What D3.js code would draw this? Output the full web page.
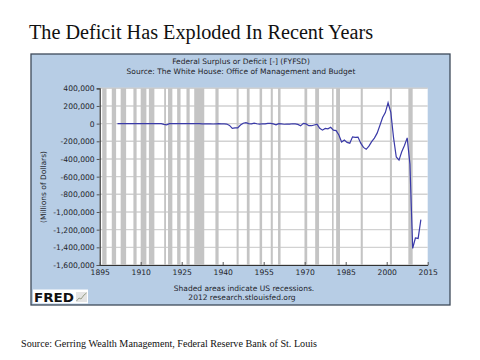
<!DOCTYPE html>
<html><head><meta charset="utf-8">
<script src="https://cdn.jsdelivr.net/npm/d3@7"></script>
<style>html,body{margin:0;padding:0;background:#fff;}svg{display:block;}</style>
</head><body>
<svg id="c" width="480" height="360"></svg>
<script>
// ---- data ----
const years = d3.range(1901, 2013);
const deficit = [
  63, 77, 45, -43, -23, 25, 87, -57, -89, -18,
  11, 3, 0, 0, -63, 48, -853, -9032, -13363, 291,
  509, 736, 713, 963, 717, 865, 1155, 939, 734, 738,
  -462, -2735, -2602, -3586, -2803, -4304, -2193, -89, -2846, -2920,
  -4941, -20503, -54554, -47557, -47553, -15936, 4018, 11796, 580, -3119,
  6102, -1519, -6493, -1154, -2993, 3947, 3412, -2769, -12849, 301,
  -3335, -7146, -4756, -5915, -1411, -3698, -8643, -25161, 3242, -2842,
  -23033, -23373, -14908, -6135, -53242, -73732, -53659, -59185, -40726, -73830,
  -78968, -127977, -207802, -185367, -212308, -221227, -149730, -155178, -152639, -221036,
  -269238, -290321, -255051, -203186, -163952, -107431, -21884, 69270, 125610, 236241,
  128236, -157758, -377585, -412727, -318346, -248181, -160701, -458553, -1412688, -1294373,
  -1299595, -1087000
];
const recessionStart = ["1895-12","1899-06","1902-09","1907-05","1910-01","1913-01","1918-08","1920-01","1923-05","1926-10","1929-08","1937-05","1945-02","1948-11","1953-07","1957-08","1960-04","1969-12","1973-11","1980-01","1981-07","1990-07","2001-03","2007-12"];
const recessionEnd   = ["1897-06","1900-12","1904-08","1908-06","1912-01","1914-12","1919-03","1921-07","1924-07","1927-11","1933-03","1938-06","1945-10","1949-10","1954-05","1958-04","1961-02","1970-11","1975-03","1980-07","1982-11","1991-03","2001-11","2009-06"];
const xTicks = [1895, 1910, 1925, 1940, 1955, 1970, 1985, 2000, 2015];
const yTicks = [400000, 200000, 0, -200000, -400000, -600000, -800000, -1000000, -1200000, -1400000, -1600000];

const title = "The Deficit Has Exploded In Recent Years";
const seriesTitle = "Federal Surplus or Deficit [-] (FYFSD)";
const seriesSource = "Source: The White House: Office of Management and Budget";
const yLabel = "(Millions of Dollars)";
const note1 = "Shaded areas indicate US recessions.";
const note2 = "2012 research.stlouisfed.org";
const footer = "Source: Gerring Wealth Management, Federal Reserve Bank of St. Louis";

// ---- layout ----
const svg = d3.select("#c");
const frame = {x: 31, y: 54, w: 419, h: 251};
const plot = {l: 99.7, r: 427.7, t: 88.3, b: 265};
const sans = "'DejaVu Sans', Verdana, sans-serif";
const serif = "'Liberation Serif', 'DejaVu Serif', serif";
const textCol = "#1e1e2a";

const x = d3.scaleLinear().domain([1895, 2015]).range([plot.l, plot.r]);
const y = d3.scaleLinear().domain([-1600000, 400000]).range([plot.b, plot.t]);
const toDec = s => { const [yy, mm] = s.split("-").map(Number); return yy + (mm - 1) / 12; };

// title
svg.append("text").attr("x", 29).attr("y", 39)
  .attr("font-family", serif).attr("font-size", 20).attr("fill", "#111")
  .attr("textLength", 344).attr("lengthAdjust", "spacingAndGlyphs").text(title);

// frame
svg.append("rect").attr("x", frame.x).attr("y", frame.y).attr("width", frame.w).attr("height", frame.h)
  .attr("fill", "#b7cde5").attr("stroke", "#3e4a5a").attr("stroke-width", 1.3);

// header text
svg.append("text").attr("x", 241).attr("y", 64).attr("text-anchor", "middle")
  .attr("font-family", sans).attr("font-size", 7.5).attr("fill", textCol).text(seriesTitle);
svg.append("text").attr("x", 241).attr("y", 74).attr("text-anchor", "middle")
  .attr("font-family", sans).attr("font-size", 7.5).attr("fill", textCol).text(seriesSource);

// plot background
svg.append("rect").attr("x", plot.l).attr("y", plot.t).attr("width", plot.r - plot.l).attr("height", plot.b - plot.t)
  .attr("fill", "#ffffff");

// gridlines
svg.append("g").selectAll("line").data(yTicks).join("line")
  .attr("x1", plot.l).attr("x2", plot.r).attr("y1", d => y(d)).attr("y2", d => y(d))
  .attr("stroke", "#d2d2d2").attr("stroke-width", 1.4);

// recessions
svg.append("g").selectAll("rect").data(recessionStart.map((s, i) => [toDec(s), toDec(recessionEnd[i]) + 1 / 12])).join("rect")
  .attr("x", d => x(d[0])).attr("width", d => Math.max(1, x(d[1]) - x(d[0])))
  .attr("y", plot.t).attr("height", plot.b - plot.t)
  .attr("fill", "#c4c4c4");

// line
const pts = years.map((yr, i) => [yr + 0.5, deficit[i]]);
svg.append("path").datum(pts)
  .attr("d", d3.line().x(d => x(d[0])).y(d => y(d[1])))
  .attr("fill", "none").attr("stroke", "#3a3aa8").attr("stroke-width", 1.2);

// axes
const fmt = d3.format(",");
const ya = svg.append("g").attr("transform", `translate(${plot.l},0)`)
  .call(d3.axisLeft(y).tickValues(yTicks).tickFormat(d => fmt(d).replace("−", "-")).tickSize(3).tickPadding(2));
const xa = svg.append("g").attr("transform", `translate(0,${plot.b})`)
  .call(d3.axisBottom(x).tickValues(xTicks).tickFormat(d3.format("d")).tickSizeInner(-3).tickSizeOuter(0).tickPadding(5));
[ya, xa].forEach(a => {
  a.selectAll("text").attr("font-family", sans).attr("font-size", 7.6).attr("fill", textCol);
  a.select(".domain").attr("stroke", "#333").attr("stroke-width", 1.2);
  a.selectAll(".tick line").attr("stroke", "#555");
});

// y label
svg.append("text").attr("transform", "translate(46,187) rotate(-90)").attr("text-anchor", "middle")
  .attr("font-family", sans).attr("font-size", 7.5).attr("fill", textCol).text(yLabel);

// notes
svg.append("text").attr("x", 244).attr("y", 291).attr("text-anchor", "middle")
  .attr("font-family", sans).attr("font-size", 7.5).attr("fill", textCol).text(note1);
svg.append("text").attr("x", 242).attr("y", 299.5).attr("text-anchor", "middle")
  .attr("font-family", sans).attr("font-size", 7.5).attr("fill", textCol).text(note2);

// FRED logo
const logo = svg.append("g");
logo.append("rect").attr("x", 33).attr("y", 289.5).attr("width", 55).attr("height", 14).attr("fill", "#ffffff");
logo.append("text").attr("x", 34).attr("y", 301.5).attr("font-family", "'DejaVu Sans', sans-serif")
  .attr("font-weight", "bold").attr("font-size", 12.5).attr("fill", "#111")
  .attr("textLength", 40).attr("lengthAdjust", "spacingAndGlyphs").text("FRED");
logo.append("rect").attr("x", 76).attr("y", 292).attr("width", 11).attr("height", 10).attr("fill", "#e4e4e4");
logo.append("path").attr("d", "M76.5,301 L79,298 L81,299 L84,295 L86.5,293").attr("fill", "none")
  .attr("stroke", "#9aa08a").attr("stroke-width", 1);

// footer
svg.append("text").attr("x", 21).attr("y", 347)
  .attr("font-family", serif).attr("font-size", 11).attr("fill", "#111")
  .attr("textLength", 296).attr("lengthAdjust", "spacingAndGlyphs").text(footer);
</script>
</body></html>
